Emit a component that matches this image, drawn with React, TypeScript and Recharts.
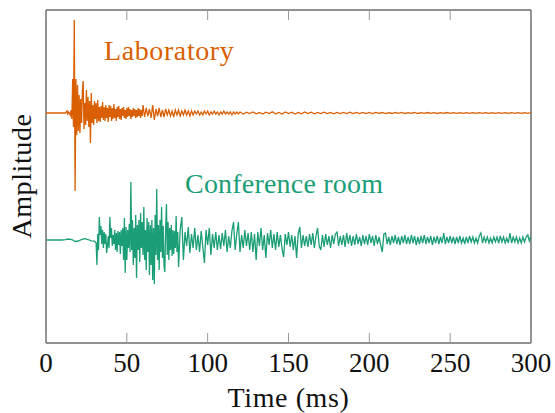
import React from 'react';
import { LineChart, Line, XAxis, YAxis, ReferenceArea, Customized } from 'recharts';

// Time axis ticks (ms)
const timeTicks = [0, 50, 100, 150, 200, 250, 300];

// Vertical offsets separating the two traces (amplitude units)
const LAB_OFFSET = 127;
const CONF_OFFSET = 0;
const Y_DOMAIN = [-103, 230];

// Laboratory impulse response, segments: [start ms, step ms, values]
const labLead = [0, 0];
const labEarly = [
  0, 0, 0, 0, 0, 1, 2, -1, 1, 0,
  -2, 3, -6, 34, -14, 93, -78, 34, -22, 28,
  -18, 18, -20, 14, -10, 22, 32, -16, 10, -12,
  23, -8, 16, -14, 12, -30, 20, -10, 8, -12,
  12, -6, 10, -10, 13, -8, 6, -9, 7, -5,
  11, -7, 6, -8, 8, -5, 5, -9, 8, -4,
  7, -8, 5, -6, 9, -5, 4, -8, 6, -4,
  7, -6, 4, -7, 5, -3, 6, -5, 3, -6,
  5, -4, 6, -3, 4, -6, 3, -4, 5, -3,
  4, -5, 3, -4, 5, -3, 4, -5, 3, -3,
  8,
];
const labMid = [
  -4, 5, -3, 4, -5, 8, -7, 4, -3, 5,
  -4, 3, -4, 4, -2, 3, -3, 2, -4, 3,
  -2, 3, -3, 2, -2, 3, -2, 2, -3, 2,
  -2, 2, -1, 2, -2, 1, -2, 2, -1, 2,
  -2, 1, -1, 2, -1, 1, -2, 1, -1, 2,
  -1, 1, -1, 1, -2, 1, -1, 1, -1, 1,
];
const labTail = [
  -1, 0.8, -0.6, 1, -0.8, 0.6, -1, 0.8, -0.5, 1.2, -0.8, 0.6, -1, 1, -0.6, 0.8, -1, 0.6, -0.8, 1,
  -0.6, 0.8, -0.8, 0.5, -0.6, 0.8, -0.5, 0.6, -0.8, 0.5, -0.6, 0.6, -0.5, 0.8, -0.6, 0.5, -0.5, 0.6, -0.6, 0.5,
  -0.5, 0.6, -0.4, 0.5, -0.6, 0.4, -0.5, 0.5, -0.4, 0.6, -0.5, 0.4, -0.4, 0.5, -0.5, 0.4, -0.4, 0.5, -0.4, 0.4,
  -0.5, 0.4, -0.4, 0.5, -0.3, 0.4, -0.4, 0.3, -0.4, 0.4, -0.3, 0.4, -0.4, 0.3, -0.3, 0.4, -0.3, 0.3, -0.4, 0.3,
  -0.3, 0.4, -0.3, 0.3, -0.3, 0.4, -0.3, 0.3, -0.3, 0.3,
];

// Conference room impulse response
const confLead = [0, 0, 0, 0, 0, 0, 0.3, 1, 0.5, -1.5, -1, 0.5, 1.3, 0.5, -0.8, -1.2];
const confEarly = [
  -3, -25, 6, -10, 23, 5, 14, -4, 10, -8,
  8, -4, 6, -13, -6, 4, -8, 23, 2, 12,
  -6, 5, -4, 10, -10, 7, -12, 9, -5, 8,
  -14, 10, -6, 12, -20, 22, -33, 13, -20, 10,
  -8, 16, -12, 58, -10, 20, -25, 12, -18, 25,
  -38, 15, -10, 20, -22, 27, -8, 18, -15, 33,
  -20, 10, -30, 22, -12, 18, -35, 15, -25, 20,
  -40, 12, -44, 25, -15, 51, -20, 15, -30, 20,
  -12, 33, -18, 14, -25, -32, 10, 36, -15, 18,
  -20, 12, -10, 15, -16, 10, -14, 9, -8, 24,
  -12, 8, -27,
];
const confMid = [
  10, 23, -20, 8, -6, 13, -13, 6, -8, 12,
  -10, 5, -12, 9, -7, -23, 10, -5, 12, -15,
  6, -8, 8, -10, 5, -9, 7, -6, 10, -12,
  4, -8, 9, 18, -10, 6, 18, -12, 5, -8,
  10, -6, 7, -10, 8, -12, 6, -20, 8, -6,
  12, -10, 5, -18, 7, -5, 10, -8, 6, -10,
  8, -7, 5, -9, -17, 6, -5, 8, -7, 5,
  -10, 4, -18, 6, 13, -8, 5, -6,
];
const confTail = [
  4, -7, 6, -5, 7, -8, 4, 12, -6, -10,
  5, -7, 6, -5, 4, -8, 5, -4, 6, 8,
  -6, 4, -5, 5, -7, 7, -4, 5, -6, 4,
  -5, 6, -4, 3, -6, 5, -4, 4, -5, 6,
  -3, 4, -6, 5, -4, 3, -5, -12, 6, 7,
  -4, 3, -5, 4, -3, 5, -4, 3, -5, 4,
  -3, 5, -4, 3, -4, 5, -3, 4, -5, 3,
  -4, 4, -3, 5, -4, 3, -3, 4, -5, 3,
  -3, 4, -4, 3, -3, 7, -4, 3, -3, 4,
  -3, 3, -4, 3, -3, 4, -3, 2, -4, 3,
  -3, 4, -2, 3, -3, 2, -3, 4, 7, -3,
  3, -2, 3, -3, 2, -3, 3, -2, 3, -3,
  4, -2, 3, -3, 2, -3, 7, -3, 3, -2,
  3, -3, 2, -3, 3, -2, 3, 5, -1, 4,
];

type Pt = { t: number; v: number };
const seg = (start: number, step: number, values: number[]): Pt[] =>
  values.map((v, i) => ({ t: start + i * step, v }));

const labData = [
  ...seg(0, 5, labLead),
  ...seg(10, 0.5, labEarly),
  ...seg(61, 1, labMid),
  ...seg(122, 2, labTail),
].map((p) => ({ t: p.t, v: p.v + LAB_OFFSET }));

const confData = [
  ...seg(0, 2, confLead),
  ...seg(31, 0.5, confEarly),
  ...seg(83, 1, confMid),
  ...seg(161, 1, confTail),
].map((p) => ({ t: p.t, v: p.v + CONF_OFFSET }));

const FONT = "'Liberation Serif', 'DejaVu Serif', serif";
const ORANGE = '#d95f02';
const GREEN = '#1b9e77';

const PLOT_H = 333;
const tickTxt = { fontFamily: FONT, fontSize: 27 };
const txt = { fontFamily: FONT, fontSize: 28, letterSpacing: 0.6 };

const TimeTick = (props: any) => {
  const { x, y, payload } = props;
  return (
    <g>
      <line x1={x} x2={x} y1={y} y2={y - 10} stroke="#9a9a9a" strokeWidth={1} />
      <line x1={x} x2={x} y1={y - PLOT_H} y2={y - PLOT_H + 10} stroke="#9a9a9a" strokeWidth={1} />
      <text x={x} y={y + 29} textAnchor="middle" style={tickTxt} fill="#111">
        {payload.value}
      </text>
    </g>
  );
};

const Labels = () => (
  <g>
    <text x={104} y={60} style={txt} fill={ORANGE}>Laboratory</text>
    <text x={185} y={193} style={{ ...txt, letterSpacing: 0.2 }} fill={GREEN}>Conference room</text>
    <text x={288.5} y={407} style={txt} fill="#111" textAnchor="middle">Time (ms)</text>
    <text x={31} y={176} style={txt} fill="#111" textAnchor="middle" transform="rotate(-90 31 176)">
      Amplitude
    </text>
  </g>
);

export default function App() {
  return (
    <div style={{ position: 'absolute', left: 0, top: 0, background: '#fff' }}>
      <LineChart width={555} height={413} margin={{ top: 10, right: 24, left: 46, bottom: 0 }}>
        <XAxis
          dataKey="t"
          type="number"
          domain={[0, 300]}
          ticks={timeTicks}
          axisLine={false}
          tickSize={0}
          tickMargin={0}
          tick={<TimeTick />}
          height={70}
          allowDataOverflow
        />
        <YAxis type="number" domain={Y_DOMAIN} hide allowDataOverflow />
        <Line
          data={labData}
          dataKey="v"
          stroke={ORANGE}
          strokeWidth={1.3}
          dot={false}
          isAnimationActive={false}
        />
        <Line
          data={confData}
          dataKey="v"
          stroke={GREEN}
          strokeWidth={1.3}
          dot={false}
          isAnimationActive={false}
        />
        <ReferenceArea
          x1={0}
          x2={300}
          y1={Y_DOMAIN[0]}
          y2={Y_DOMAIN[1]}
          fill="none"
          fillOpacity={0}
          stroke="#222"
          strokeWidth={1}
        />
        <Customized component={Labels} />
      </LineChart>
    </div>
  );
}
